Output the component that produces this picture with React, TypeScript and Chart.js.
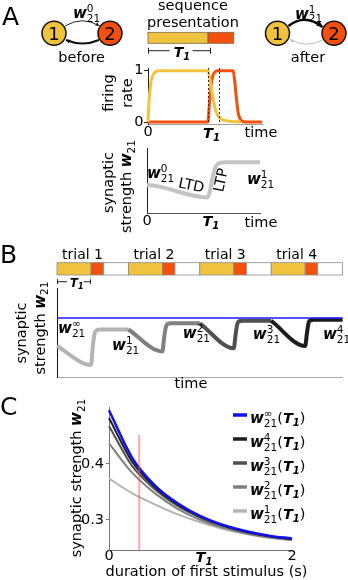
import React, { useEffect, useRef } from 'react';
import { Chart, registerables } from 'chart.js';

Chart.register(...registerables);

const FONT = '"DejaVu Sans", "Liberation Sans", sans-serif';
const PAGE_W = 348;
const PAGE_H = 580;
const YELLOW = '#f0c33e';
const ORANGE = '#f2500c';
const Y_AXIS_BOX = 34;
const X_AXIS_BOX = 20;

// ---------- Panel A: firing rates (time in units of T1) ----------
const firingYellowTime = [0, 0.02, 0.05, 0.09, 0.13, 0.18, 1.0, 1.03, 1.06, 1.09, 1.13, 1.18, 1.25, 1.4, 1.55];
const firingYellowRate = [0, 0.45, 0.78, 0.93, 0.98, 1.0, 1.0, 0.85, 0.62, 0.43, 0.22, 0.1, 0.04, 0.01, 0];
const firingOrangeTime = [0, 1.0, 1.02, 1.05, 1.08, 1.12, 1.17, 1.42, 1.44, 1.47, 1.5, 1.53, 1.58, 1.65, 1.9];
const firingOrangeRate = [0, 0, 0.3, 0.7, 0.9, 0.98, 1.0, 1.0, 0.85, 0.5, 0.2, 0.07, 0.01, 0, 0];
const firingDashTimes = [1.0, 1.18];
const firingYTicks = [0, 1];
const firingXTicks = [0];
const seqStim1 = [0, 1.0];
const seqStim2 = [1.0, 1.43];

// ---------- Panel A: synaptic strength ----------
const synTime = [0, 0.15, 1.0, 1.04, 1.08, 1.12, 1.16, 1.22, 1.3, 1.87];
const synWeight = [0.43, 0.415, 0.24, 0.33, 0.52, 0.67, 0.745, 0.775, 0.78, 0.78];
const synXTicks = [0];

// ---------- Panel B: repeated trials ----------
const trialStarts = [0, 2.1, 4.2, 6.3];
const trialStim1 = 1.0;
const trialStim2 = 0.37;
const trialPeriod = 2.1;
const trialLabelOffset = 0.75;
const trial1Time = [0, 1.0, 1.05, 1.1, 1.15, 1.25, 2.1];
const trial1W = [0.348, 0.135, 0.33, 0.48, 0.52, 0.534, 0.534];
const trial2Time = [2.1, 3.1, 3.15, 3.2, 3.25, 3.35, 4.2];
const trial2W = [0.534, 0.287, 0.44, 0.56, 0.595, 0.603, 0.603];
const trial3Time = [4.2, 5.2, 5.25, 5.3, 5.35, 5.45, 6.3];
const trial3W = [0.603, 0.322, 0.47, 0.59, 0.625, 0.632, 0.632];
const trial4Time = [6.3, 7.3, 7.35, 7.4, 7.45, 7.55, 8.4];
const trial4W = [0.632, 0.348, 0.49, 0.61, 0.637, 0.642, 0.642];
const wInfTime = [0, 8.4];
const wInfValue = [0.662, 0.662];
const trialColors = ['#b4b4b4', '#808080', '#505050', '#1c1c1c'];
const bLabelSup = ['∞', '1', '2', '3', '4'];
const bLabelT = [0.03, 1.62, 3.7, 5.76, 7.82];
const bLabelW = [0.494, 0.303, 0.438, 0.427, 0.427];

// ---------- Panel C: weight vs duration of first stimulus ----------
const cDuration = [0, 0.25, 0.5, 0.75, 1.0, 1.25, 1.5, 1.75, 2.0];
const cWInf = [0.496, 0.412, 0.362, 0.330, 0.307, 0.291, 0.280, 0.272, 0.267];
const cW4 = [0.482, 0.405, 0.359, 0.328, 0.306, 0.290, 0.279, 0.271, 0.266];
const cW3 = [0.468, 0.397, 0.355, 0.325, 0.304, 0.289, 0.278, 0.271, 0.266];
const cW2 = [0.437, 0.385, 0.348, 0.320, 0.300, 0.286, 0.276, 0.269, 0.265];
const cW1 = [0.374, 0.348, 0.328, 0.310, 0.296, 0.284, 0.275, 0.268, 0.264];
const cLegendSup = ['∞', '4', '3', '2', '1'];
const cColors = ['#1111ee', '#1c1c1c', '#505050', '#808080', '#b4b4b4'];
const cMarkerT = [0.33, 0.33];
const cMarkerW = [0.2464, 0.452];
const cYTicks = [0.3, 0.4];
const cXTicks = [0, 2];

// ---------- helpers ----------
const rf = (s: number) => `${s}px ${FONT}`;
const bi = (s: number) => `italic bold ${s}px ${FONT}`;

type Part = { t: string; f: string; dy?: number; stack?: boolean };

function richWidth(ctx: any, parts: Part[]) {
  let w = 0;
  let pending = 0;
  for (const p of parts) {
    ctx.font = p.f;
    const m = ctx.measureText(p.t).width;
    if (p.stack) pending = m;
    else {
      w += Math.max(m, pending);
      pending = 0;
    }
  }
  return w;
}

function drawRich(ctx: any, x: number, y: number, parts: Part[], align = 'left', rot = 0, color = '#000') {
  ctx.save();
  ctx.translate(x, y);
  if (rot) ctx.rotate(rot);
  ctx.textAlign = 'left';
  ctx.textBaseline = 'alphabetic';
  ctx.fillStyle = color;
  const total = richWidth(ctx, parts);
  let cx = align === 'center' ? -total / 2 : align === 'right' ? -total : 0;
  let pending = 0;
  for (const p of parts) {
    ctx.font = p.f;
    const m = ctx.measureText(p.t).width;
    ctx.fillText(p.t, cx, p.dy || 0);
    if (p.stack) pending = m;
    else {
      cx += Math.max(m, pending);
      pending = 0;
    }
  }
  ctx.restore();
}

function wParts(sup: string, s = 15): Part[] {
  const parts: Part[] = [{ t: 'w', f: bi(s) }];
  if (sup) parts.push({ t: sup, f: rf(s * 0.7), dy: -s * 0.4, stack: true });
  parts.push({ t: '21', f: rf(s * 0.7), dy: s * 0.25 });
  return parts;
}

function t1Parts(s: number): Part[] {
  return [
    { t: 'T', f: bi(s) },
    { t: '1', f: bi(s * 0.7), dy: s * 0.22 },
  ];
}

function drawT1(ctx: any, cx: number, y: number, s: number) {
  ctx.font = bi(s);
  const tw = ctx.measureText('T').width;
  drawRich(ctx, cx - tw / 2, y, t1Parts(s));
}

function text(ctx: any, s: string, x: number, y: number, font: string, align = 'left', color = '#000') {
  ctx.font = font;
  ctx.textAlign = align;
  ctx.textBaseline = 'alphabetic';
  ctx.fillStyle = color;
  ctx.fillText(s, x, y);
}

function arrowHead(ctx: any, x: number, y: number, ang: number, size: number, color: string) {
  ctx.save();
  ctx.fillStyle = color;
  ctx.beginPath();
  ctx.moveTo(x, y);
  ctx.lineTo(x - size * Math.cos(ang) + size * 0.5 * Math.sin(ang), y - size * Math.sin(ang) - size * 0.5 * Math.cos(ang));
  ctx.lineTo(x - size * Math.cos(ang) - size * 0.5 * Math.sin(ang), y - size * Math.sin(ang) + size * 0.5 * Math.cos(ang));
  ctx.closePath();
  ctx.fill();
  ctx.restore();
}

function curvedArrow(ctx: any, x0: number, y0: number, cx: number, cy: number, x1: number, y1: number, width: number, color: string, head: number) {
  ctx.save();
  ctx.strokeStyle = color;
  ctx.lineWidth = width;
  ctx.beginPath();
  ctx.moveTo(x0, y0);
  ctx.quadraticCurveTo(cx, cy, x1, y1);
  ctx.stroke();
  ctx.restore();
  arrowHead(ctx, x1, y1, Math.atan2(y1 - cy, x1 - cx), head, color);
}

function neuron(ctx: any, x: number, y: number, fill: string, label: string) {
  ctx.save();
  ctx.beginPath();
  ctx.arc(x, y, 12, 0, Math.PI * 2);
  ctx.fillStyle = fill;
  ctx.fill();
  ctx.lineWidth = 1.5;
  ctx.strokeStyle = '#111';
  ctx.stroke();
  ctx.restore();
  text(ctx, label, x, y + 6.5, rf(18), 'center');
}

// chart area edges -> layout padding (the axis boxes sit inside the padding)
function area(left: number, top: number, right: number, bottom: number) {
  return { left: left - Y_AXIS_BOX, top, right: PAGE_W - right, bottom: PAGE_H - bottom - X_AXIS_BOX };
}

function axis(kind: string, min: number, max: number, o: any) {
  const ticks: number[] = o.ticks || [];
  return {
    type: 'linear',
    position: kind === 'x' ? 'bottom' : 'left',
    min,
    max,
    afterFit: (s: any) => {
      if (kind === 'x') s.height = X_AXIS_BOX;
      else s.width = Y_AXIS_BOX;
    },
    afterBuildTicks: (s: any) => {
      s.ticks = ticks.map((v) => ({ value: v }));
    },
    ticks: {
      display: ticks.length > 0,
      autoSkip: false,
      maxRotation: 0,
      minRotation: 0,
      padding: o.pad ?? 2,
      color: '#000',
      font: { family: FONT, size: o.size ?? 14.5, lineHeight: 1 },
      callback: (v: any) => String(v),
    },
    grid: {
      display: true,
      drawOnChartArea: false,
      drawTicks: (o.tickLen ?? 0) > 0,
      tickLength: o.tickLen ?? 0,
      color: o.color,
      lineWidth: 1,
    },
    border: { display: true, color: o.color, width: o.width ?? 1 },
  };
}

function line(xs: number[], ys: number[], color: string, width: number, extra: any = {}) {
  return {
    data: xs.map((x, i) => ({ x, y: ys[i] })),
    borderColor: color,
    backgroundColor: color,
    borderWidth: width,
    pointRadius: 0,
    fill: false,
    tension: 0,
    cubicInterpolationMode: 'monotone',
    clip: false,
    ...extra,
  };
}

function baseOptions(pad: any, scales: any) {
  return {
    responsive: false,
    animation: false,
    events: [],
    devicePixelRatio: 1,
    layout: { padding: pad },
    plugins: { legend: { display: false }, tooltip: { enabled: false }, title: { display: false } },
    scales,
  };
}

// ---------- decorations ----------
const decoFiring = {
  id: 'decoFiring',
  afterDraw(chart: any) {
    const ctx = chart.ctx;
    const xs = chart.scales.x;
    const a = chart.chartArea;
    ctx.save();
    text(ctx, 'A', 2, 25, rf(25));

    // networks: before
    neuron(ctx, 54, 33.3, YELLOW, '1');
    neuron(ctx, 110, 33.3, ORANGE, '2');
    curvedArrow(ctx, 65, 26, 82.5, 15.5, 99.5, 26, 1, '#222', 4);
    curvedArrow(ctx, 99, 40, 82.5, 47, 66, 40, 2, '#111', 4);
    drawRich(ctx, 73, 18.3, wParts('0'));
    text(ctx, 'before', 81.7, 61.5, rf(14.5), 'center');

    // networks: after
    neuron(ctx, 277.5, 33.3, YELLOW, '1');
    neuron(ctx, 334, 33.3, ORANGE, '2');
    curvedArrow(ctx, 288.5, 26, 305, 13, 322.5, 27, 2.5, '#000', 6);
    curvedArrow(ctx, 322.5, 40, 306.5, 48.5, 290, 39.5, 1, '#bbb', 3.5);
    drawRich(ctx, 295, 18.5, wParts('1'));
    text(ctx, 'after', 308, 61.5, rf(14.5), 'center');

    // sequence presentation bar
    text(ctx, 'sequence', 193, 9.5, rf(14.5), 'center');
    text(ctx, 'presentation', 193, 27, rf(14.5), 'center');
    const b0 = xs.getPixelForValue(seqStim1[0]);
    const b1 = xs.getPixelForValue(seqStim1[1]);
    const b2 = xs.getPixelForValue(seqStim2[1]);
    ctx.fillStyle = YELLOW;
    ctx.fillRect(b0, 32.3, b1 - b0, 11);
    ctx.fillStyle = ORANGE;
    ctx.fillRect(b1, 32.3, b2 - b1, 11);
    ctx.strokeStyle = '#7a6a50';
    ctx.lineWidth = 0.8;
    ctx.strokeRect(b0, 32.3, b1 - b0, 11);
    ctx.strokeRect(b1, 32.3, b2 - b1, 11);

    // T1 bracket
    const e1 = b1 + 3;
    const mid = (b0 + e1) / 2;
    ctx.strokeStyle = '#222';
    ctx.lineWidth = 1;
    ctx.beginPath();
    ctx.moveTo(b0, 50.7); ctx.lineTo(mid - 10, 50.7);
    ctx.moveTo(mid + 13, 50.7); ctx.lineTo(e1, 50.7);
    ctx.moveTo(b0 + 0.5, 47.7); ctx.lineTo(b0 + 0.5, 53.7);
    ctx.moveTo(e1 - 0.5, 47.7); ctx.lineTo(e1 - 0.5, 53.7);
    ctx.stroke();
    drawT1(ctx, mid - 1, 56.7, 14);

    // dashed markers
    ctx.setLineDash([2, 2]);
    ctx.strokeStyle = '#333';
    ctx.lineWidth = 1;
    for (const t of firingDashTimes) {
      const px = Math.round(xs.getPixelForValue(t)) + 0.5;
      ctx.beginPath();
      ctx.moveTo(px, a.top);
      ctx.lineTo(px, a.bottom);
      ctx.stroke();
    }
    ctx.setLineDash([]);

    drawT1(ctx, xs.getPixelForValue(1), 137.5, 14.5);
    text(ctx, 'time', 261, 137.3, rf(14.5), 'center');

    drawRich(ctx, 112.5, 93, [{ t: 'firing', f: rf(14.5) }], 'center', -Math.PI / 2);
    drawRich(ctx, 131.5, 93, [{ t: 'rate', f: rf(14.5) }], 'center', -Math.PI / 2);
    ctx.restore();
  },
};

const decoSyn = {
  id: 'decoSyn',
  afterDraw(chart: any) {
    const ctx = chart.ctx;
    const xs = chart.scales.x;
    ctx.save();
    drawRich(ctx, 147, 178, wParts('0'));
    drawRich(ctx, 191.5, 185, [{ t: 'LTD', f: rf(14.5), dy: 5 }], 'center', 0.2);
    drawRich(ctx, 220.5, 180, [{ t: 'LTP', f: rf(14.5), dy: 5 }], 'center', -1.36);
    drawRich(ctx, 247, 184, wParts('1'));
    drawT1(ctx, xs.getPixelForValue(1), 226, 14.5);
    text(ctx, 'time', 261, 226.5, rf(14.5), 'center');
    drawRich(ctx, 112.5, 182.5, [{ t: 'synaptic', f: rf(14.5) }], 'center', -Math.PI / 2);
    drawRich(ctx, 131, 186.5, [{ t: 'strength ', f: rf(14.5) }, ...wParts('')], 'center', -Math.PI / 2);
    ctx.restore();
  },
};

const decoTrials = {
  id: 'decoTrials',
  afterDraw(chart: any) {
    const ctx = chart.ctx;
    const xs = chart.scales.x;
    const ys = chart.scales.y;
    ctx.save();
    text(ctx, 'B', 0, 263, rf(25));
    trialStarts.forEach((s, k) => {
      const segs = [
        [s, s + trialStim1, YELLOW],
        [s + trialStim1, s + trialStim1 + trialStim2, ORANGE],
        [s + trialStim1 + trialStim2, s + trialPeriod, '#ffffff'],
      ];
      for (const [u, v, c] of segs as any) {
        const p0 = xs.getPixelForValue(u);
        const p1 = xs.getPixelForValue(v);
        ctx.fillStyle = c;
        ctx.fillRect(p0, 262.7, p1 - p0, 12.3);
        ctx.strokeStyle = '#8c8c8c';
        ctx.lineWidth = 0.8;
        ctx.strokeRect(p0, 262.7, p1 - p0, 12.3);
      }
      text(ctx, 'trial ' + (k + 1), xs.getPixelForValue(s + trialLabelOffset), 259, rf(14), 'center');
    });

    // T1 bracket
    const q0 = xs.getPixelForValue(0);
    const q1 = xs.getPixelForValue(trialStim1);
    const qm = (q0 + q1) / 2;
    ctx.strokeStyle = '#222';
    ctx.lineWidth = 1;
    ctx.beginPath();
    ctx.moveTo(q0, 281.7); ctx.lineTo(qm - 7, 281.7);
    ctx.moveTo(qm + 10, 281.7); ctx.lineTo(q1, 281.7);
    ctx.moveTo(q0 + 0.5, 279.2); ctx.lineTo(q0 + 0.5, 284.2);
    ctx.moveTo(q1 - 0.5, 279.2); ctx.lineTo(q1 - 0.5, 284.2);
    ctx.stroke();
    drawT1(ctx, qm, 286.5, 11.5);

    bLabelSup.forEach((sup, i) => {
      drawRich(ctx, xs.getPixelForValue(bLabelT[i]), ys.getPixelForValue(bLabelW[i]), wParts(sup));
    });
    text(ctx, 'time', 191, 388, rf(14.5), 'center');
    drawRich(ctx, 26, 333, [{ t: 'synaptic', f: rf(14.5) }], 'center', -Math.PI / 2);
    drawRich(ctx, 44.5, 328, [{ t: 'strength ', f: rf(14.5) }, ...wParts('')], 'center', -Math.PI / 2);
    ctx.restore();
  },
};

const decoDuration = {
  id: 'decoDuration',
  afterDraw(chart: any) {
    const ctx = chart.ctx;
    const xs = chart.scales.x;
    ctx.save();
    text(ctx, 'C', 0, 415, rf(25));
    cLegendSup.forEach((sup, i) => {
      const ds = chart.data.datasets[i + 1];
      const yRow = 415 + i * 24;
      ctx.strokeStyle = ds.borderColor;
      ctx.lineWidth = 3.5;
      ctx.beginPath();
      ctx.moveTo(233, yRow);
      ctx.lineTo(247, yRow);
      ctx.stroke();
      drawRich(ctx, 250, yRow + 8, [
        ...wParts(sup),
        { t: '(', f: rf(14.5) },
        { t: 'T', f: bi(14.5) },
        { t: '1', f: bi(10), dy: 3 },
        { t: ')', f: rf(14.5) },
      ]);
    });
    drawT1(ctx, xs.getPixelForValue(1), 561.5, 14.5);
    text(ctx, 'duration of first stimulus (s)', 206.5, 576, rf(14.5), 'center');
    drawRich(ctx, 81, 478, [{ t: 'synaptic strength ', f: rf(14.5) }, ...wParts('')], 'center', -Math.PI / 2);
    ctx.restore();
  },
};

// ---------- configs ----------
function firingConfig(): any {
  return {
    type: 'line',
    data: {
      datasets: [
        line(firingYellowTime, firingYellowRate, YELLOW, 3),
        line(firingOrangeTime, firingOrangeRate, ORANGE, 3),
      ],
    },
    options: baseOptions(area(148, 68, 262, 124), {
      x: axis('x', 0, 1.9, { ticks: firingXTicks, color: '#a0a0a0', pad: 1.25 }),
      y: axis('y', -0.039, 1.053, { ticks: firingYTicks, color: '#222', tickLen: 4, pad: 0.5 }),
    }),
    plugins: [decoFiring],
  };
}

function synConfig(): any {
  return {
    type: 'line',
    data: { datasets: [line(synTime, synWeight, '#c4c4c4', 4)] },
    options: baseOptions(area(147, 148, 260, 213), {
      x: axis('x', 0, 1.87, { ticks: synXTicks, color: '#555', pad: 0.75 }),
      y: axis('y', 0, 1, { ticks: [], color: '#222' }),
    }),
    plugins: [decoSyn],
  };
}

function trialsConfig(): any {
  return {
    type: 'line',
    data: {
      datasets: [
        line(wInfTime, wInfValue, '#1a1aff', 1.5),
        line(trial4Time, trial4W, trialColors[3], 4),
        line(trial3Time, trial3W, trialColors[2], 4),
        line(trial2Time, trial2W, trialColors[1], 4),
        line(trial1Time, trial1W, trialColors[0], 4),
      ],
    },
    options: baseOptions(area(57, 288, 342.6, 377), {
      x: axis('x', 0, 8.4, { ticks: [], color: '#a8a8a8' }),
      y: axis('y', 0, 1, { ticks: [], color: '#111' }),
    }),
    plugins: [decoTrials],
  };
}

function durationConfig(): any {
  return {
    type: 'line',
    data: {
      datasets: [
        line(cMarkerT, cMarkerW, 'rgba(245,90,90,0.5)', 2, { cubicInterpolationMode: 'default' }),
        line(cDuration, cWInf, cColors[0], 2.5),
        line(cDuration, cW4, cColors[1], 2),
        line(cDuration, cW3, cColors[2], 2),
        line(cDuration, cW2, cColors[3], 2),
        line(cDuration, cW1, cColors[4], 2),
      ],
    },
    options: baseOptions(area(109, 407, 292, 550), {
      x: axis('x', 0, 2, { ticks: cXTicks, color: '#777', pad: -1.25 }),
      y: axis('y', 0.2464, 0.5018, { ticks: cYTicks, color: '#777', tickLen: 3, pad: 2 }),
    }),
    plugins: [decoDuration],
  };
}

export default function App() {
  const r1 = useRef<HTMLCanvasElement>(null);
  const r2 = useRef<HTMLCanvasElement>(null);
  const r3 = useRef<HTMLCanvasElement>(null);
  const r4 = useRef<HTMLCanvasElement>(null);

  useEffect(() => {
    document.body.style.margin = '0';
    const charts = [
      new Chart(r1.current as any, firingConfig()),
      new Chart(r2.current as any, synConfig()),
      new Chart(r3.current as any, trialsConfig()),
      new Chart(r4.current as any, durationConfig()),
    ];
    return () => charts.forEach((c) => c.destroy());
  }, []);

  const cs: any = { position: 'absolute', left: 0, top: 0, width: PAGE_W, height: PAGE_H };
  return (
    <div style={{ position: 'absolute', left: 0, top: 0, width: PAGE_W, height: PAGE_H, background: '#fff' }}>
      <canvas ref={r1} width={PAGE_W} height={PAGE_H} style={cs} />
      <canvas ref={r2} width={PAGE_W} height={PAGE_H} style={cs} />
      <canvas ref={r3} width={PAGE_W} height={PAGE_H} style={cs} />
      <canvas ref={r4} width={PAGE_W} height={PAGE_H} style={cs} />
    </div>
  );
}
